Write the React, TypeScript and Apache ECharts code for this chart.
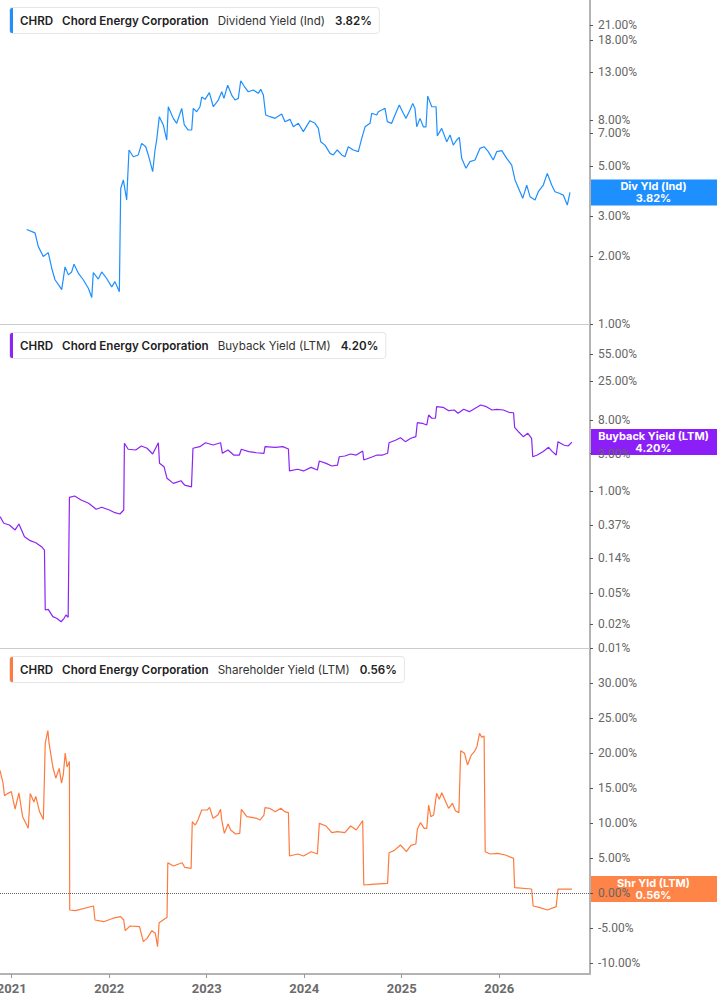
import { useEffect, useRef } from 'react';
import * as echarts from 'echarts';

// [year, yield %]
const dividendYield: [number, number][] = [
  [2021.154, 2.62], [2021.239, 2.53], [2021.273, 2.2], [2021.324, 1.99], [2021.375, 2.07],
  [2021.41, 1.77], [2021.444, 1.57], [2021.495, 1.46], [2021.513, 1.42], [2021.547, 1.79],
  [2021.581, 1.65], [2021.615, 1.7], [2021.639, 1.84], [2021.683, 1.68], [2021.734, 1.57],
  [2021.786, 1.44], [2021.821, 1.31], [2021.837, 1.69], [2021.888, 1.58], [2021.923, 1.7],
  [2021.974, 1.59], [2022.026, 1.46], [2022.059, 1.54], [2022.104, 1.39], [2022.118, 3.98],
  [2022.145, 4.34], [2022.179, 3.54], [2022.203, 5.89], [2022.247, 5.5], [2022.298, 5.6],
  [2022.333, 6.3], [2022.374, 6.09], [2022.401, 5.6], [2022.446, 4.72], [2022.47, 5.89],
  [2022.487, 6.52], [2022.514, 8.27], [2022.555, 7.6], [2022.59, 6.52], [2022.606, 9.15],
  [2022.657, 8.13], [2022.692, 7.73], [2022.744, 9.0], [2022.77, 7.6], [2022.811, 7.22],
  [2022.846, 7.22], [2022.862, 9.0], [2022.897, 8.7], [2022.931, 9.15], [2022.949, 10.1],
  [2022.983, 9.87], [2023.027, 10.56], [2023.068, 9.15], [2023.119, 9.8], [2023.154, 10.66],
  [2023.177, 9.97], [2023.215, 11.4], [2023.256, 10.31], [2023.29, 9.8], [2023.324, 9.97],
  [2023.349, 11.93], [2023.383, 11.3], [2023.427, 10.66], [2023.478, 10.85], [2023.529, 10.49],
  [2023.554, 10.93], [2023.581, 10.31], [2023.605, 8.41], [2023.649, 8.27], [2023.701, 8.13],
  [2023.769, 8.5], [2023.803, 7.86], [2023.854, 8.05], [2023.888, 7.46], [2023.94, 7.73],
  [2023.991, 7.1], [2024.059, 7.94], [2024.111, 7.73], [2024.145, 7.34], [2024.169, 6.41],
  [2024.213, 6.19], [2024.265, 5.69], [2024.298, 5.6], [2024.339, 5.89], [2024.385, 5.6],
  [2024.418, 5.5], [2024.452, 6.09], [2024.504, 5.89], [2024.555, 5.79], [2024.59, 6.63],
  [2024.624, 7.46], [2024.675, 7.73], [2024.692, 8.56], [2024.744, 8.41], [2024.76, 8.7],
  [2024.795, 8.85], [2024.829, 9.0], [2024.852, 7.86], [2024.897, 7.73], [2024.931, 8.41],
  [2024.975, 9.31], [2025.016, 8.56], [2025.044, 8.13], [2025.085, 8.85], [2025.113, 9.47],
  [2025.136, 9.0], [2025.154, 7.46], [2025.188, 8.13], [2025.222, 7.46], [2025.249, 7.46],
  [2025.267, 10.2], [2025.308, 9.15], [2025.352, 9.15], [2025.365, 6.79], [2025.41, 7.34],
  [2025.462, 6.41], [2025.496, 6.86], [2025.529, 6.19], [2025.564, 6.52], [2025.591, 6.7],
  [2025.615, 5.41], [2025.659, 4.89], [2025.7, 5.23], [2025.752, 5.32], [2025.803, 5.99],
  [2025.844, 6.09], [2025.888, 5.79], [2025.939, 5.32], [2025.974, 5.79], [2026.026, 5.85],
  [2026.077, 5.41], [2026.128, 5.05], [2026.162, 4.34], [2026.213, 3.85], [2026.241, 3.6],
  [2026.282, 4.12], [2026.316, 3.66], [2026.367, 3.54], [2026.401, 3.85], [2026.452, 4.12],
  [2026.493, 4.64], [2026.538, 4.12], [2026.572, 3.85], [2026.616, 3.79], [2026.657, 3.72],
  [2026.698, 3.36], [2026.726, 3.82],
];

const buybackYield: [number, number][] = [
  [2020.88, 0.471], [2020.919, 0.388], [2020.976, 0.369], [2021.035, 0.319], [2021.074, 0.38],
  [2021.131, 0.262], [2021.19, 0.233], [2021.247, 0.219], [2021.306, 0.195], [2021.336, 0.177],
  [2021.344, 0.0305], [2021.375, 0.0311], [2021.422, 0.0251], [2021.461, 0.0239], [2021.507, 0.0216],
  [2021.537, 0.0239], [2021.557, 0.0263], [2021.579, 0.0246], [2021.592, 0.831], [2021.645, 0.864],
  [2021.712, 0.768], [2021.789, 0.697], [2021.866, 0.585], [2021.924, 0.62], [2022.001, 0.573],
  [2022.059, 0.529], [2022.11, 0.509], [2022.149, 0.573], [2022.156, 4.05], [2022.195, 3.4],
  [2022.272, 3.33], [2022.33, 3.74], [2022.388, 3.5], [2022.446, 2.96], [2022.504, 4.12],
  [2022.516, 2.25], [2022.562, 2.04], [2022.593, 1.45], [2022.658, 1.25], [2022.736, 1.35],
  [2022.774, 1.19], [2022.844, 1.13], [2022.859, 3.5], [2022.929, 3.67], [2022.988, 4.12],
  [2023.065, 3.85], [2023.142, 4.12], [2023.161, 3.02], [2023.218, 3.33], [2023.277, 2.87],
  [2023.335, 2.87], [2023.355, 3.4], [2023.432, 3.17], [2023.51, 3.07], [2023.587, 3.02],
  [2023.598, 3.67], [2023.703, 3.6], [2023.781, 3.67], [2023.838, 3.43], [2023.849, 1.8],
  [2023.934, 1.89], [2023.993, 1.8], [2024.07, 2.0], [2024.135, 1.85], [2024.155, 2.41],
  [2024.225, 2.25], [2024.283, 2.08], [2024.341, 2.14], [2024.36, 2.73], [2024.417, 2.79],
  [2024.476, 2.96], [2024.534, 2.87], [2024.6, 3.23], [2024.611, 2.48], [2024.688, 2.69],
  [2024.747, 2.87], [2024.805, 2.87], [2024.855, 3.02], [2024.87, 4.12], [2024.941, 4.46],
  [2024.987, 4.77], [2025.037, 4.25], [2025.094, 4.69], [2025.145, 4.92], [2025.16, 7.41],
  [2025.21, 7.28], [2025.257, 6.93], [2025.276, 9.29], [2025.308, 8.44], [2025.346, 8.44],
  [2025.358, 11.86], [2025.424, 11.64], [2025.481, 10.54], [2025.539, 10.76], [2025.578, 9.77],
  [2025.636, 10.98], [2025.694, 10.24], [2025.771, 11.64], [2025.81, 12.46], [2025.868, 11.86],
  [2025.926, 10.76], [2025.976, 10.98], [2026.042, 10.76], [2026.099, 10.06], [2026.147, 9.93],
  [2026.158, 6.48], [2026.197, 5.69], [2026.247, 4.92], [2026.293, 5.43], [2026.332, 4.69],
  [2026.344, 2.73], [2026.39, 2.87], [2026.448, 3.17], [2026.506, 3.6], [2026.545, 3.17],
  [2026.584, 2.87], [2026.603, 4.25], [2026.661, 3.85], [2026.706, 3.74], [2026.746, 4.2],
];

const shareholderYield: [number, number][] = [
  [2020.88, 17.5], [2020.911, 15.7], [2020.926, 13.9], [2020.957, 14.2], [2020.996, 14.5],
  [2021.035, 12.0], [2021.074, 14.3], [2021.112, 10.9], [2021.17, 9.24], [2021.19, 14.2],
  [2021.228, 13.0], [2021.247, 13.8], [2021.286, 11.6], [2021.325, 10.5], [2021.344, 21.4],
  [2021.371, 23.2], [2021.383, 21.4], [2021.422, 18.0], [2021.452, 16.4], [2021.487, 17.8],
  [2021.511, 15.7], [2021.529, 16.9], [2021.549, 20.0], [2021.568, 18.0], [2021.592, 18.8],
  [2021.595, -2.43], [2021.653, -2.52], [2021.839, -1.86], [2021.854, -3.86], [2021.944, -4.1],
  [2022.04, -3.6], [2022.117, -3.38], [2022.149, -3.86], [2022.164, -5.38], [2022.214, -4.71],
  [2022.311, -4.81], [2022.35, -6.95], [2022.388, -6.48], [2022.438, -5.38], [2022.473, -5.76],
  [2022.496, -7.67], [2022.512, -4.24], [2022.593, -3.48], [2022.601, 4.33], [2022.658, 3.86],
  [2022.748, 4.33], [2022.774, 3.67], [2022.84, 3.52], [2022.852, 10.19], [2022.883, 9.71],
  [2022.91, 10.43], [2022.949, 11.86], [2023.007, 11.86], [2023.03, 12.24], [2023.065, 10.67],
  [2023.115, 11.14], [2023.142, 11.95], [2023.154, 10.43], [2023.181, 8.52], [2023.219, 9.86],
  [2023.246, 9.0], [2023.296, 8.43], [2023.339, 8.52], [2023.355, 11.95], [2023.412, 10.9],
  [2023.463, 10.81], [2023.51, 10.67], [2023.548, 10.43], [2023.587, 11.14], [2023.598, 12.19],
  [2023.645, 12.1], [2023.703, 11.62], [2023.761, 12.1], [2023.799, 11.62], [2023.838, 11.48],
  [2023.849, 5.29], [2023.934, 5.57], [2023.993, 5.29], [2024.07, 5.9], [2024.135, 5.57],
  [2024.155, 9.95], [2024.225, 9.57], [2024.283, 8.62], [2024.341, 8.76], [2024.417, 8.62],
  [2024.476, 9.57], [2024.534, 9.0], [2024.6, 10.33], [2024.611, 1.14], [2024.688, 1.24],
  [2024.855, 1.38], [2024.87, 5.76], [2024.921, 6.05], [2024.987, 6.86], [2025.048, 5.9],
  [2025.094, 6.81], [2025.145, 7.0], [2025.16, 9.1], [2025.192, 10.05], [2025.23, 9.24],
  [2025.257, 9.24], [2025.276, 12.57], [2025.299, 10.9], [2025.327, 11.14], [2025.358, 14.24],
  [2025.385, 13.38], [2025.411, 14.33], [2025.443, 13.29], [2025.481, 12.1], [2025.52, 12.81],
  [2025.551, 11.76], [2025.586, 11.48], [2025.605, 20.33], [2025.644, 19.95], [2025.675, 18.29],
  [2025.714, 19.71], [2025.745, 20.19], [2025.771, 20.9], [2025.798, 22.81], [2025.822, 22.24],
  [2025.845, 22.43], [2025.856, 5.9], [2025.907, 5.57], [2025.984, 5.67], [2026.062, 5.43],
  [2026.147, 4.95], [2026.158, 0.76], [2026.332, 0.57], [2026.348, -1.86], [2026.409, -2.05],
  [2026.494, -2.43], [2026.584, -1.95], [2026.603, 0.57], [2026.746, 0.56],
];

const yearTicks = [2021, 2022, 2023, 2024, 2025, 2026];
const divTicks = [1, 2, 3, 5, 7, 8, 13, 18, 21];
const buybackTicks = [0.01, 0.02, 0.05, 0.14, 0.37, 1, 3, 8, 25, 55];
const shrTicks = [-10, -5, 0, 5, 10, 15, 20, 25, 30];

const X_MIN = 2020.88;
const X_MAX = 2026.931;
const W = 717;
const H = 1005;
const PLOT_RIGHT = 590;
const PANEL_TOPS = [0, 324, 648];
const PANEL_HEIGHTS = [324, 324, 326];

const panels = [
  { metric: 'Dividend Yield (Ind)', tag: 'Div Yld (Ind)', line: '#1e8fff', fill: '#1e8fff', data: dividendYield, log: true, min: 1, max: 27.16, ticks: divTicks },
  { metric: 'Buyback Yield (LTM)', tag: 'Buyback Yield (LTM)', line: '#8b24f4', fill: '#8c1ff7', data: buybackYield, log: true, min: 0.01, max: 134, ticks: buybackTicks },
  { metric: 'Shareholder Yield (LTM)', tag: 'Shr Yld (LTM)', line: '#ff7a3d', fill: '#ff8447', data: shareholderYield, log: false, min: -11.57, max: 35, ticks: shrTicks },
];

const tf = (log: boolean, v: number) => (log ? Math.log10(v) : v);
const pct = (v: number) => `${v.toFixed(2)}%`;

export default function App() {
  const ref = useRef<HTMLDivElement>(null);

  useEffect(() => {
    if (!ref.current) return;
    const chart = echarts.init(ref.current, null, { renderer: 'svg' });

    const option: any = {
      animation: false,
      backgroundColor: '#ffffff',
      grid: panels.map((_, i) => ({
        left: 0,
        right: W - PLOT_RIGHT,
        top: PANEL_TOPS[i],
        height: PANEL_HEIGHTS[i],
        containLabel: false,
        outerBoundsMode: 'none',
      })),
      xAxis: panels.map((_, i) => ({
        type: 'value',
        gridIndex: i,
        min: X_MIN,
        max: X_MAX,
        axisLine: {
          show: true,
          onZero: false,
          lineStyle: i === 2 ? { color: '#b3b3b3', width: 2 } : { color: '#cccccc', width: 1 },
        },
        axisTick: { show: i === 2, customValues: yearTicks, length: 4, lineStyle: { color: '#999999' } },
        axisLabel: {
          show: i === 2,
          customValues: yearTicks,
          formatter: (v: number) => String(Math.round(v)),
          color: '#6b6b6b',
          fontFamily: 'Roboto',
          fontWeight: 'bold',
          fontSize: 13,
          margin: 8,
        },
        splitLine: { show: false },
      })),
      yAxis: panels.map((p, i) => {
        const ticks = p.ticks.map((t) => tf(p.log, t));
        return {
          type: 'value',
          gridIndex: i,
          position: 'right',
          min: tf(p.log, p.min),
          max: tf(p.log, p.max),
          axisLine: { show: true, lineStyle: { color: '#b3b3b3', width: 2 } },
          axisTick: { show: true, customValues: ticks, length: 3, lineStyle: { color: '#555555' } },
          axisLabel: {
            customValues: ticks,
            formatter: (v: number) => pct(p.log ? Math.pow(10, v) : v),
            color: '#666666',
            fontFamily: 'Roboto',
            fontSize: 12,
            margin: 8,
          },
          splitLine: { show: false },
        };
      }),
      series: panels.map((p, i) => ({
        type: 'line',
        xAxisIndex: i,
        yAxisIndex: i,
        showSymbol: false,
        symbol: 'none',
        lineStyle: { color: p.line, width: 1.2 },
        data: p.data.map(([t, v]) => [t, tf(p.log, v)]),
        markLine: p.log
          ? undefined
          : {
              silent: true,
              symbol: 'none',
              label: { show: false },
              lineStyle: { color: '#666666', type: 'dotted', width: 1 },
              data: [{ yAxis: 0 }],
            },
      })),
    };

    chart.setOption(option);

    const graphics: any[] = [];
    panels.forEach((p, i) => {
      const last = p.data[p.data.length - 1][1];
      // legend box in the panel's upper-left corner
      graphics.push({
        type: 'group',
        x: 10,
        y: PANEL_TOPS[i] + (i === 0 ? 8 : 9),
        z: 100,
        children: [
          {
            type: 'text',
            x: 0,
            y: 0,
            style: {
              text: `{b|CHRD}{b|Chord Energy Corporation}{n|${p.metric}}{v|${pct(last)}}`,
              align: 'left',
              verticalAlign: 'top',
              backgroundColor: '#ffffff',
              borderColor: '#e6e6e6',
              borderWidth: 1,
              borderRadius: 3,
              padding: [6, 7, 6, 10],
              rich: {
                b: { fontFamily: 'Inter', fontSize: 11.6, fontWeight: 600, fill: '#222222', lineHeight: 13, padding: [0, 9, 0, 0] },
                n: { fontFamily: 'Inter', fontSize: 11.6, fill: '#333333', lineHeight: 13, padding: [0, 10, 0, 0] },
                v: { fontFamily: 'Inter', fontSize: 11.6, fontWeight: 600, fill: '#222222', lineHeight: 13 },
              },
            },
          },
          {
            type: 'rect',
            shape: { x: 0, y: 0, width: 3, height: 25, r: [2, 0, 0, 2] },
            style: { fill: p.line },
          },
        ],
      });
      // value tag on the right axis, placed through the axis scale
      const y = chart.convertToPixel({ yAxisIndex: i }, tf(p.log, last)) as number;
      const cx = (PLOT_RIGHT + W) / 2;
      const txt = {
        align: 'center',
        verticalAlign: 'middle',
        fill: '#ffffff',
        fontFamily: 'Inter',
        fontWeight: 'bold',
        fontSize: 11,
        lineHeight: 11,
      };
      graphics.push({
        type: 'group',
        z: 100,
        children: [
          {
            type: 'rect',
            shape: { x: PLOT_RIGHT - 1, y: y - 13, width: W - PLOT_RIGHT + 1, height: 26 },
            style: { fill: p.fill },
          },
          { type: 'text', style: { ...txt, x: cx, y: y - 6, text: p.tag } },
          { type: 'text', style: { ...txt, x: cx, y: y + 6, text: pct(last) } },
        ],
      });
    });

    chart.setOption({ graphic: graphics });

    return () => {
      chart.dispose();
    };
  }, []);

  return (
    <div
      ref={ref}
      style={{ position: 'absolute', left: 0, top: 0, width: `${W}px`, height: `${H}px` }}
    />
  );
}
